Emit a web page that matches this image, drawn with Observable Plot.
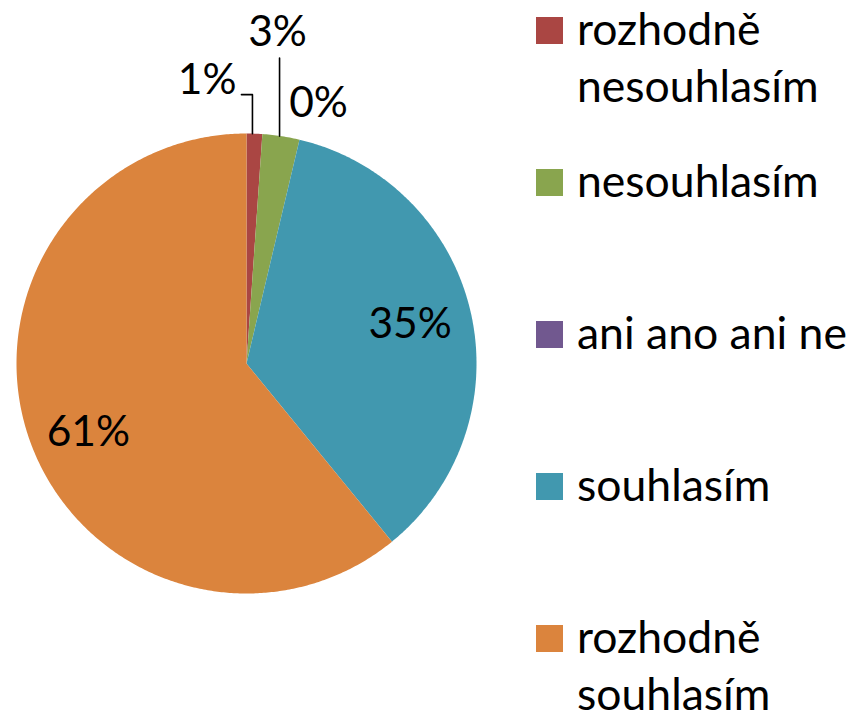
<!DOCTYPE html>
<html>
<head>
<meta charset="utf-8">
<script src="https://cdn.jsdelivr.net/npm/d3@7"></script>
<script src="https://cdn.jsdelivr.net/npm/@observablehq/plot@0.6"></script>
<style>
  html, body { margin: 0; padding: 0; background: #fff; }
  #wrap { position: relative; width: 853px; height: 717px; overflow: hidden; font-family: Lato, "Open Sans", sans-serif; }
  #legend { position: absolute; left: 0; top: 0; }
  .item { position: absolute; left: 536px; }
  .sw { position: absolute; left: 0; width: 27px; height: 27px; }
  .tx { position: absolute; left: 41px; font-size: 44.5px; line-height: 57px; color: #000; white-space: nowrap; }
</style>
</head>
<body>
<div id="wrap"></div>
<script>
// ---- data ----
const categories = ["rozhodně nesouhlasím", "nesouhlasím", "ani ano ani ne", "souhlasím", "rozhodně souhlasím"];
const legendLines = [["rozhodně", "nesouhlasím"], ["nesouhlasím"], ["ani ano ani ne"], ["souhlasím"], ["rozhodně", "souhlasím"]];
const values = [1.1, 2.6, 0, 35.4, 60.9];
const colors = ["#AA4643", "#89A54E", "#71588F", "#4198AF", "#DB843D"];

// ---- derived geometry (data space, unit circle, angle clockwise from top) ----
const total = d3.sum(values);
let cum = 0;
const slices = categories.map((c, i) => {
  const a0 = cum / total * 2 * Math.PI;
  cum += values[i];
  const a1 = cum / total * 2 * Math.PI;
  return {cat: c, value: values[i], a0, a1, mid: (a0 + a1) / 2, label: Math.round(values[i] / total * 100) + "%"};
});
const pt = (a, r) => ({x: r * Math.sin(a), y: r * Math.cos(a)});

const poly = [];
for (const s of slices) {
  poly.push({cat: s.cat, ...pt(0, 0)});
  const n = Math.max(2, Math.ceil((s.a1 - s.a0) / (Math.PI / 360)));
  for (let k = 0; k <= n; k++) poly.push({cat: s.cat, ...pt(s.a0 + (s.a1 - s.a0) * k / n, 1)});
  poly.push({cat: s.cat, ...pt(0, 0)});
}

const big = slices.filter(s => s.value / total >= 0.1);
const inside = big.map(s => ({...pt(s.mid, 0.73), label: s.label, cat: s.cat}));

// outside labels for small slices
const sRed = slices[0], sGreen = slices[1], sPurple = slices[2];
const u = 1 / 230; // one pixel in data units
const eRed = pt(sRed.mid, 1);
const leadRed = [
  {x: eRed.x - 2 * u, y: eRed.y, g: "red"},
  {x: eRed.x - 2 * u, y: eRed.y + 39 * u, g: "red"},
  {x: eRed.x - 13 * u, y: eRed.y + 39 * u, g: "red"}
];
const eGreen = pt(sGreen.mid, 1);
const leadGreen = [{x: eGreen.x - 1.5 * u, y: eGreen.y, g: "green"}, {x: eGreen.x - 1.5 * u, y: eGreen.y + 78 * u, g: "green"}];
const ePurple = pt(sPurple.mid, 1);

const wrap = document.getElementById("wrap");

const chart = Plot.plot({
  width: 853,
  height: 717,
  marginLeft: 16,
  marginRight: 377,
  marginTop: 133,
  marginBottom: 124,
  x: {domain: [-1, 1], axis: null},
  y: {domain: [-1, 1], axis: null},
  color: {domain: categories, range: colors},
  style: {fontFamily: "Lato, 'Open Sans', sans-serif", background: "white"},
  marks: [
    Plot.line(poly, {x: "x", y: "y", z: "cat", fill: "cat", stroke: "none", curve: "linear"}),
    Plot.text(inside.filter(d => d.cat === categories[3]), {x: "x", y: "y", text: "label", fontSize: 42.5, fill: "#000", dy: -1}),
    Plot.text(inside.filter(d => d.cat === categories[4]), {x: "x", y: "y", text: "label", fontSize: 42.5, fill: "#000", dy: 13}),
    Plot.line([...leadRed, ...leadGreen], {x: "x", y: "y", z: "g", stroke: "#000", strokeWidth: 1.6}),
    Plot.text([leadRed[2]], {x: "x", y: "y", text: () => sRed.label, fontSize: 42.5, textAnchor: "end", dx: -5, dy: -14, fill: "#000"}),
    Plot.text([leadGreen[1]], {x: "x", y: "y", text: () => sGreen.label, fontSize: 42.5, dx: -2, dy: -26, fill: "#000"}),
    Plot.text([ePurple], {x: "x", y: "y", text: () => sPurple.label, fontSize: 42.5, dx: 19, dy: -36, fill: "#000"})
  ]
});
wrap.appendChild(chart);

// legend
const legend = document.createElement("div");
legend.id = "legend";
categories.forEach((c, i) => {
  const item = document.createElement("div");
  item.className = "item";
  item.style.top = (i * 152) + "px";
  const sw = document.createElement("div");
  sw.className = "sw";
  sw.style.background = colors[i];
  sw.style.top = "17px";
  const tx = document.createElement("div");
  tx.className = "tx";
  tx.style.top = "-1px";
  tx.innerHTML = legendLines[i].join("<br>");
  item.appendChild(sw);
  item.appendChild(tx);
  legend.appendChild(item);
});
wrap.appendChild(legend);
</script>
</body>
</html>
